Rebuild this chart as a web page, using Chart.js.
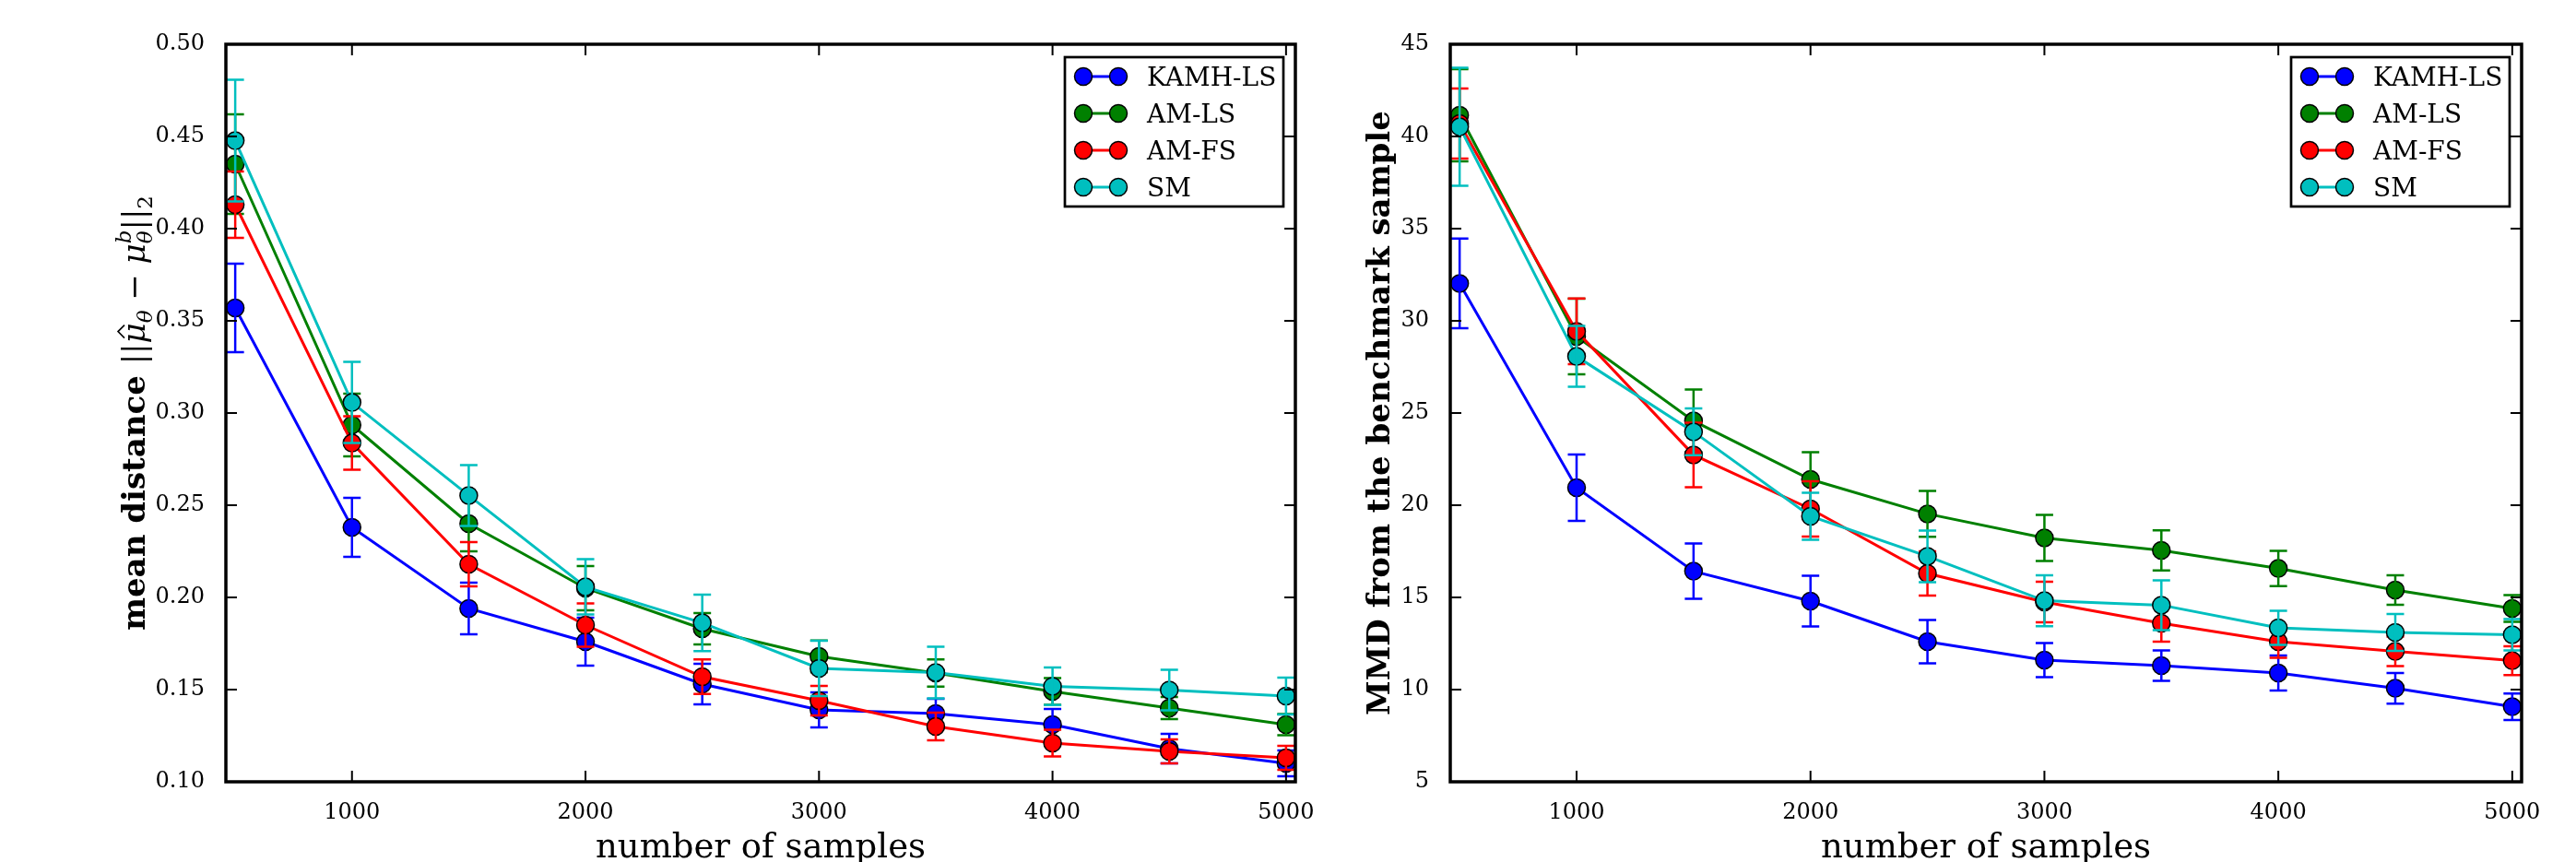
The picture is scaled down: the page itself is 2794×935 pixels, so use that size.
<!DOCTYPE html>
<html>
<head>
<meta charset="utf-8">
<script src="https://cdn.jsdelivr.net/npm/chart.js@4.4.1/dist/chart.umd.min.js"></script>
<style>
  body { margin: 0; background: #fff; }
  #wrap { position: relative; width: 2794px; height: 935px; background: #fff; }
  canvas { position: absolute; top: 0; }
  #distChart { left: 0; }
  #mmdChart { left: 1440px; }
</style>
</head>
<body>
<div id="wrap">
  <canvas id="distChart" width="1440" height="935"></canvas>
  <canvas id="mmdChart" width="1354" height="935"></canvas>
</div>
<script>
const sampleSizes = [500, 1000, 1500, 2000, 2500, 3000, 3500, 4000, 4500, 5000];
const seriesNames = ["KAMH-LS", "AM-LS", "AM-FS", "SM"];
const seriesColors = ["#0000ff", "#008000", "#ff0000", "#00bfbf"];
const xTicks = [1000, 2000, 3000, 4000, 5000];
const distTicks = [0.10, 0.15, 0.20, 0.25, 0.30, 0.35, 0.40, 0.45, 0.50];
const mmdTicks = [5, 10, 15, 20, 25, 30, 35, 40, 45];

// left panel: mean distance to benchmark mean
const distKamh = [0.357, 0.238, 0.194, 0.176, 0.153, 0.139, 0.137, 0.131, 0.118, 0.110];
const distKamhErr = [0.024, 0.016, 0.014, 0.013, 0.011, 0.0095, 0.008, 0.0085, 0.008, 0.007];
const distAmLs = [0.435, 0.2935, 0.240, 0.205, 0.183, 0.168, 0.159, 0.149, 0.140, 0.131];
const distAmLsErr = [0.027, 0.017, 0.015, 0.012, 0.0085, 0.0086, 0.0074, 0.0073, 0.006, 0.0057];
const distAmFs = [0.413, 0.2837, 0.218, 0.185, 0.157, 0.144, 0.130, 0.121, 0.1165, 0.113];
const distAmFsErr = [0.018, 0.0145, 0.012, 0.0117, 0.0094, 0.008, 0.0075, 0.0073, 0.0065, 0.0065];
const distSm = [0.4477, 0.3057, 0.2553, 0.2057, 0.1862, 0.1615, 0.1593, 0.1518, 0.1498, 0.1465];
const distSmErr = [0.033, 0.022, 0.0165, 0.015, 0.0153, 0.015, 0.014, 0.0102, 0.011, 0.010];

// right panel: MMD from the benchmark sample
const mmdKamh = [32.03, 20.95, 16.42, 14.8, 12.6, 11.6, 11.3, 10.9, 10.07, 9.07];
const mmdKamhErr = [2.43, 1.8, 1.5, 1.38, 1.17, 0.93, 0.82, 0.95, 0.83, 0.72];
const mmdAmLs = [41.15, 29.15, 24.57, 21.4, 19.53, 18.23, 17.55, 16.57, 15.4, 14.4];
const mmdAmLsErr = [2.5, 2.05, 1.7, 1.47, 1.24, 1.25, 1.09, 0.96, 0.8, 0.73];
const mmdAmFs = [40.7, 29.43, 22.73, 19.8, 16.3, 14.75, 13.6, 12.6, 12.07, 11.57];
const mmdAmFsErr = [1.9, 1.78, 1.75, 1.5, 1.2, 1.1, 1.0, 0.87, 0.8, 0.78];
const mmdSm = [40.52, 28.07, 23.98, 19.4, 17.23, 14.82, 14.58, 13.35, 13.1, 12.98];
const mmdSmErr = [3.2, 1.65, 1.27, 1.27, 1.4, 1.38, 1.35, 0.92, 1.0, 0.85];

const SERIF = '"DejaVu Serif"';

const distTitle = [
  { text: "mean distance ", font: `bold 34px ${SERIF}` },
  { text: "||", font: `34px ${SERIF}` },
  { text: "\u03bc", font: `italic 34px ${SERIF}`, hat: true },
  { text: "\u03b8", font: `italic 23px ${SERIF}`, dy: 8 },
  { text: " \u2212 ", font: `34px ${SERIF}` },
  { text: "\u03bc", font: `italic 34px ${SERIF}` },
  { text: "\u03b8", font: `italic 23px ${SERIF}`, dy: 8, sup: "b" },
  { text: "||", font: `34px ${SERIF}` },
  { text: "2", font: `23px ${SERIF}`, dy: 8 }
];
const mmdTitle = [
  { text: "MMD from the benchmark sample", font: `bold 34px ${SERIF}` }
];

const makeDatasets = (values, errors) => values.map((vals, k) => ({
  label: seriesNames[k],
  data: sampleSizes.map((x, i) => ({ x, y: vals[i] })),
  errors: errors[k],
  borderColor: seriesColors[k],
  backgroundColor: seriesColors[k],
  pointBackgroundColor: seriesColors[k],
  pointBorderColor: "#000",
  pointBorderWidth: 1.5,
  pointRadius: 9.5,
  borderWidth: 3,
  order: seriesNames.length - k,
  clip: false
}));

// vertical error bars with caps, drawn right after each series
const errorBars = {
  id: "errorBars",
  afterDatasetDraw(chart, args) {
    const ds = chart.data.datasets[args.index];
    const { ctx, scales: { x, y } } = chart;
    ctx.save();
    ctx.strokeStyle = ds.borderColor;
    ctx.lineWidth = 2.5;
    ctx.beginPath();
    ds.data.forEach((p, i) => {
      const px = x.getPixelForValue(p.x);
      const hi = y.getPixelForValue(p.y + ds.errors[i]);
      const lo = y.getPixelForValue(p.y - ds.errors[i]);
      ctx.moveTo(px, hi); ctx.lineTo(px, lo);
      ctx.moveTo(px - 9.5, hi); ctx.lineTo(px + 9.5, hi);
      ctx.moveTo(px - 9.5, lo); ctx.lineTo(px + 9.5, lo);
    });
    ctx.stroke();
    ctx.restore();
  }
};

// box frame with inward ticks on all four sides
const frameTicks = {
  id: "frameTicks",
  afterDatasetsDraw(chart) {
    const { ctx, chartArea: { left, right, top, bottom }, scales: { x, y } } = chart;
    ctx.save();
    ctx.strokeStyle = "#000";
    ctx.lineWidth = 2;
    ctx.beginPath();
    x.ticks.forEach(t => {
      const px = x.getPixelForValue(t.value);
      ctx.moveTo(px, bottom); ctx.lineTo(px, bottom - 12);
      ctx.moveTo(px, top); ctx.lineTo(px, top + 12);
    });
    y.ticks.forEach(t => {
      const py = y.getPixelForValue(t.value);
      ctx.moveTo(left, py); ctx.lineTo(left + 12, py);
      ctx.moveTo(right, py); ctx.lineTo(right - 12, py);
    });
    ctx.stroke();
    ctx.lineWidth = 3.5;
    ctx.strokeRect(left, top, right - left, bottom - top);
    ctx.restore();
  }
};

// legend: line between two markers, like matplotlib numpoints=2
const markerLegend = {
  id: "markerLegend",
  afterDraw(chart) {
    const { ctx, chartArea: { right, top } } = chart;
    const boxW = 237, boxH = 162;
    const bx = right - 13 - boxW, by = top + 14;
    ctx.save();
    ctx.fillStyle = "#fff";
    ctx.fillRect(bx, by, boxW, boxH);
    ctx.lineWidth = 2.7;
    ctx.strokeStyle = "#000";
    ctx.strokeRect(bx, by, boxW, boxH);
    chart.data.datasets.forEach((ds, i) => {
      const ry = by + 21 + 40 * i;
      ctx.strokeStyle = ds.borderColor;
      ctx.lineWidth = 3;
      ctx.beginPath();
      ctx.moveTo(bx + 20, ry); ctx.lineTo(bx + 58, ry);
      ctx.stroke();
      [bx + 20, bx + 58].forEach(cx => {
        ctx.beginPath();
        ctx.arc(cx, ry, 9.5, 0, Math.PI * 2);
        ctx.fillStyle = ds.borderColor;
        ctx.fill();
        ctx.lineWidth = 1.5;
        ctx.strokeStyle = "#000";
        ctx.stroke();
      });
      ctx.fillStyle = "#000";
      ctx.font = `28px ${SERIF}`;
      ctx.textBaseline = "alphabetic";
      ctx.fillText(ds.label, bx + 89, ry + 10);
    });
    ctx.restore();
  }
};

// rotated y title built from text runs (sub/superscripts, hat)
const yTitle = (runs, baseX) => ({
  id: "yTitle",
  afterDraw(chart) {
    const { ctx, chartArea: { top, bottom } } = chart;
    ctx.save();
    ctx.fillStyle = "#000";
    ctx.strokeStyle = "#000";
    ctx.textBaseline = "alphabetic";
    const widths = runs.map(r => {
      ctx.font = r.font;
      let w = ctx.measureText(r.text).width;
      if (r.sup) w = Math.max(w, ctx.measureText(r.sup).width);
      return w;
    });
    const total = widths.reduce((a, b) => a + b, 0);
    ctx.translate(baseX, (top + bottom) / 2);
    ctx.rotate(-Math.PI / 2);
    let x = -total / 2;
    runs.forEach((r, i) => {
      ctx.font = r.font;
      ctx.fillText(r.text, x, r.dy || 0);
      if (r.sup) ctx.fillText(r.sup, x, -15);
      if (r.hat) {
        const cx = x + widths[i] * 0.58;
        ctx.lineWidth = 1.6;
        ctx.beginPath();
        ctx.moveTo(cx - 7, -22); ctx.lineTo(cx, -29); ctx.lineTo(cx + 7, -22);
        ctx.stroke();
      }
      x += widths[i];
    });
    ctx.restore();
  }
});

const buildChart = (canvasId, cfg) => new Chart(document.getElementById(canvasId), {
  type: "line",
  data: { datasets: makeDatasets(cfg.values, cfg.errors) },
  options: {
    responsive: false,
    animation: false,
    events: [],
    layout: { padding: { top: 48, right: cfg.padRight, left: 0, bottom: 0 } },
    plugins: { legend: { display: false }, tooltip: { enabled: false } },
    scales: {
      x: {
        type: "linear",
        min: 460,
        max: 5040,
        afterBuildTicks: s => { s.ticks = xTicks.map(v => ({ value: v })); },
        afterFit: s => { s.height = 87; },
        grid: { display: false },
        border: { display: false },
        ticks: { color: "#000", font: { family: "DejaVu Serif", size: 24 }, padding: 11, maxRotation: 0, autoSkip: false, callback: v => String(v) },
        title: { display: true, text: "number of samples", color: "#000", font: { family: "DejaVu Serif", size: 37 }, padding: { top: 0, bottom: -8 } }
      },
      y: {
        type: "linear",
        min: cfg.yTicks[0],
        max: cfg.yTicks[cfg.yTicks.length - 1],
        afterBuildTicks: s => { s.ticks = cfg.yTicks.map(v => ({ value: v })); },
        afterFit: s => { s.width = cfg.axisWidth; },
        grid: { display: false },
        border: { display: false },
        ticks: { color: "#000", font: { family: "DejaVu Serif", size: 24 }, padding: 15, autoSkip: false, callback: cfg.format }
      }
    }
  },
  plugins: [errorBars, frameTicks, markerLegend, yTitle(cfg.title, cfg.titleX)]
});

buildChart("distChart", {
  values: [distKamh, distAmLs, distAmFs, distSm],
  errors: [distKamhErr, distAmLsErr, distAmFsErr, distSmErr],
  yTicks: distTicks,
  format: v => v.toFixed(2),
  axisWidth: 245,
  padRight: 35,
  title: distTitle,
  titleX: 157
});

buildChart("mmdChart", {
  values: [mmdKamh, mmdAmLs, mmdAmFs, mmdSm],
  errors: [mmdKamhErr, mmdAmLsErr, mmdAmFsErr, mmdSmErr],
  yTicks: mmdTicks,
  format: v => String(v),
  axisWidth: 133,
  padRight: 59,
  title: mmdTitle,
  titleX: 67
});
</script>
</body>
</html>
